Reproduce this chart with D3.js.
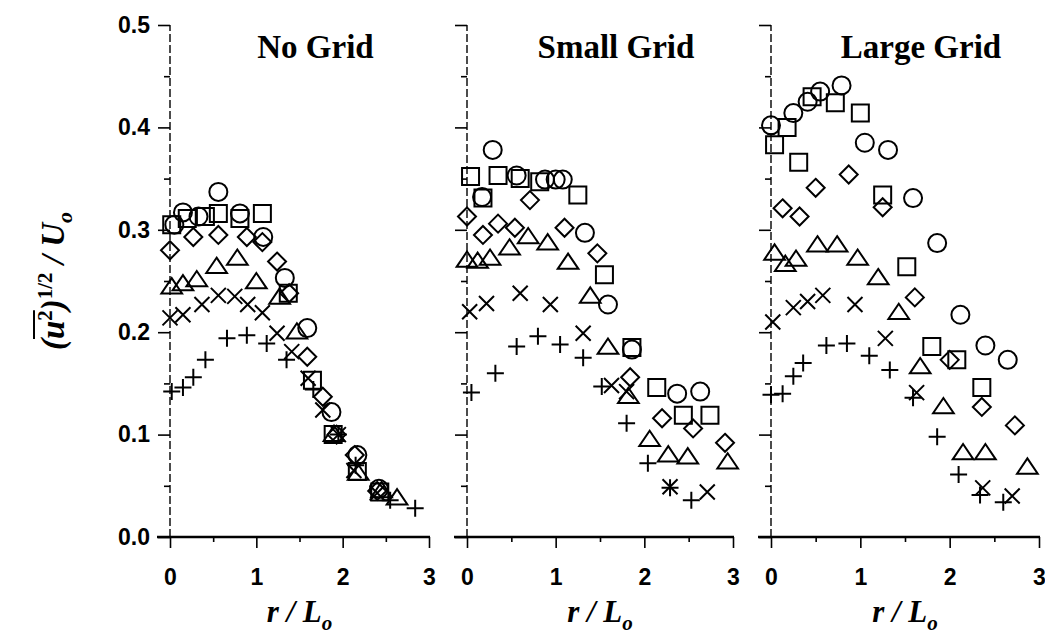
<!DOCTYPE html>
<html>
<head>
<meta charset="utf-8">
<script src="https://cdn.jsdelivr.net/npm/d3@7"></script>
<style>
  body { margin: 0; background: #fff; }
  .tick text { font-family: "Liberation Sans", Arial, sans-serif; font-weight: bold; font-size: 23px; fill: #000; }
  .tick line { stroke: #000; stroke-width: 1.6; }
</style>
</head>
<body>
<svg id="chart"></svg>
<script>
// panels and axis ticks
var panelTitles = ['No Grid', 'Small Grid', 'Large Grid'];
var xTicks = [0, 1, 2, 3];
var xMinorTicks = [0.5, 1.5, 2.5];
var yTicks = [0, 0.1, 0.2, 0.3, 0.4, 0.5];
var yMinorTicks = [0.05, 0.15, 0.25, 0.35, 0.45];

// No Grid: [r/Lo, u'/Uo]
var ngCircle = [[0.05,0.305],[0.15,0.317],[0.33,0.313],[0.56,0.337],[0.81,0.316],[1.08,0.293],[1.33,0.253],[1.59,0.204],[1.87,0.122],[2.17,0.080],[2.42,0.047]];
var ngSquare = [[0.02,0.305],[0.20,0.311],[0.41,0.313],[0.56,0.316],[0.81,0.311],[1.07,0.316],[1.37,0.238],[1.65,0.153],[1.89,0.100],[2.17,0.064],[2.43,0.044]];
var ngDiamond = [[0.0,0.280],[0.27,0.293],[0.56,0.295],[0.89,0.293],[1.07,0.288],[1.24,0.269],[1.38,0.238],[1.59,0.176],[1.77,0.137],[1.93,0.100],[2.14,0.080],[2.40,0.045]];
var ngTriangle = [[0.02,0.244],[0.15,0.247],[0.31,0.251],[0.54,0.264],[0.78,0.272],[1.0,0.249],[1.27,0.234],[1.47,0.200],[1.90,0.100],[2.18,0.062],[2.45,0.045],[2.63,0.038]];
var ngTimes = [[0.0,0.214],[0.15,0.217],[0.37,0.227],[0.56,0.236],[0.75,0.235],[0.90,0.227],[1.07,0.219],[1.24,0.199],[1.41,0.181],[1.60,0.155],[1.77,0.124],[1.95,0.100],[2.13,0.065],[2.40,0.043]];
var ngPlus = [[0.02,0.142],[0.15,0.146],[0.27,0.156],[0.41,0.173],[0.66,0.194],[0.89,0.197],[1.12,0.189],[1.35,0.173],[1.66,0.144],[1.95,0.100],[2.15,0.070],[2.55,0.036],[2.84,0.028]];

// Small Grid
var sgCircle = [[0.17,0.332],[0.29,0.378],[0.56,0.353],[0.88,0.349],[1.0,0.349],[1.08,0.349],[1.33,0.297],[1.59,0.227],[1.86,0.183],[2.37,0.140],[2.63,0.142]];
var sgSquare = [[0.04,0.352],[0.18,0.331],[0.35,0.353],[0.60,0.350],[0.82,0.347],[1.25,0.334],[1.55,0.256],[1.86,0.185],[2.14,0.146],[2.44,0.119],[2.74,0.119]];
var sgDiamond = [[0.0,0.313],[0.18,0.295],[0.35,0.306],[0.54,0.302],[0.71,0.329],[1.10,0.302],[1.47,0.277],[1.84,0.156],[2.20,0.116],[2.55,0.106],[2.91,0.092]];
var sgTriangle = [[0.0,0.270],[0.12,0.269],[0.26,0.272],[0.48,0.282],[0.69,0.293],[0.91,0.287],[1.14,0.268],[1.39,0.235],[1.59,0.185],[1.82,0.137],[2.06,0.095],[2.27,0.080],[2.49,0.078],[2.94,0.073]];
var sgTimes = [[0.03,0.220],[0.22,0.228],[0.60,0.238],[0.94,0.227],[1.31,0.199],[1.63,0.148],[1.80,0.142],[2.29,0.049],[2.71,0.044]];
var sgPlus = [[0.05,0.141],[0.32,0.160],[0.56,0.186],[0.80,0.196],[1.05,0.188],[1.31,0.175],[1.52,0.147],[1.80,0.111],[2.04,0.072],[2.29,0.048],[2.53,0.036]];

// Large Grid
var lgCircle = [[0.0,0.402],[0.25,0.414],[0.41,0.425],[0.55,0.435],[0.79,0.441],[1.05,0.385],[1.31,0.378],[1.59,0.331],[1.86,0.287],[2.12,0.217],[2.40,0.187],[2.65,0.173]];
var lgSquare = [[0.04,0.383],[0.18,0.400],[0.31,0.366],[0.46,0.430],[0.72,0.424],[1.0,0.414],[1.25,0.334],[1.52,0.264],[1.80,0.186],[2.08,0.173],[2.36,0.146]];
var lgDiamond = [[0.13,0.321],[0.32,0.313],[0.50,0.341],[0.87,0.354],[1.25,0.322],[1.61,0.234],[2.0,0.173],[2.36,0.127],[2.73,0.109]];
var lgTriangle = [[0.04,0.277],[0.16,0.266],[0.28,0.271],[0.52,0.285],[0.74,0.285],[0.97,0.272],[1.20,0.253],[1.43,0.219],[1.67,0.166],[1.93,0.127],[2.15,0.082],[2.40,0.082],[2.87,0.068]];
var lgTimes = [[0.02,0.210],[0.25,0.224],[0.41,0.230],[0.58,0.236],[0.94,0.227],[1.28,0.194],[1.63,0.141],[2.37,0.048],[2.70,0.040]];
var lgPlus = [[0.0,0.139],[0.13,0.140],[0.25,0.157],[0.36,0.170],[0.62,0.187],[0.85,0.189],[1.10,0.177],[1.33,0.163],[1.59,0.136],[1.86,0.098],[2.10,0.061],[2.34,0.041],[2.60,0.034]];

var width = 1045;
var height = 636;

// marker shapes (open symbols, drawn via d3.symbol)
var shapes = {
    circle: { draw: function(c, s) { c.moveTo(s, 0); c.arc(0, 0, s, 0, 2 * Math.PI); } },
    square: { draw: function(c, s) { c.rect(-s, -s, 2 * s, 2 * s); } },
    diamond: { draw: function(c, s) { c.moveTo(0, -s); c.lineTo(s, 0); c.lineTo(0, s); c.lineTo(-s, 0); c.closePath(); } },
    triangle: { draw: function(c, s) { c.moveTo(0, -s); c.lineTo(s * 1.15, s * 0.7); c.lineTo(-s * 1.15, s * 0.7); c.closePath(); } },
    times: { draw: function(c, s) { c.moveTo(-s, -s); c.lineTo(s, s); c.moveTo(s, -s); c.lineTo(-s, s); } },
    plus: { draw: function(c, s) { c.moveTo(-s, 0); c.lineTo(s, 0); c.moveTo(0, -s); c.lineTo(0, s); } }
};
var shapeSize = { circle: 9, square: 8.5, diamond: 9, triangle: 9, times: 7.5, plus: 8.5 };

var panels = [
    { x0: 170, x1: 429, series: { circle: ngCircle, square: ngSquare, diamond: ngDiamond, triangle: ngTriangle, times: ngTimes, plus: ngPlus } },
    { x0: 467, x1: 733, series: { circle: sgCircle, square: sgSquare, diamond: sgDiamond, triangle: sgTriangle, times: sgTimes, plus: sgPlus } },
    { x0: 771, x1: 1039, series: { circle: lgCircle, square: lgSquare, diamond: lgDiamond, triangle: lgTriangle, times: lgTimes, plus: lgPlus } }
];

var svg = d3.select('#chart')
    .attr('width', width)
    .attr('height', height);

var yScale = d3.scaleLinear().domain([0, 0.5]).range([537, 25]);

panels.forEach(function(p, i) {
    var xScale = d3.scaleLinear().domain([0, 3]).range([p.x0, p.x1]);
    var g = svg.append('g');

    // y axis: major + minor ticks
    var yAxis = d3.axisLeft(yScale).tickValues(yTicks).tickSize(12).tickPadding(8)
        .tickFormat(i === 0 ? d3.format('.1f') : '');
    g.append('g').attr('transform', `translate(${p.x0}, 0)`).call(yAxis)
        .call(a => a.select('.domain').remove());
    g.append('g').attr('transform', `translate(${p.x0}, 0)`)
        .call(d3.axisLeft(yScale).tickValues(yMinorTicks).tickSize(6).tickFormat(''))
        .call(a => a.select('.domain').remove());
    g.append('line')
        .attr('x1', p.x0).attr('x2', p.x0)
        .attr('y1', yScale(0)).attr('y2', yScale(0.5))
        .attr('stroke', '#000').attr('stroke-width', 1.4)
        .attr('stroke-dasharray', '8,3');

    // x axis: major + minor ticks
    g.append('g').attr('transform', `translate(0, ${yScale(0)})`)
        .call(d3.axisBottom(xScale).tickValues(xTicks).tickSize(11).tickPadding(21).tickFormat(d3.format('d')))
        .call(a => a.select('.domain').remove());
    g.append('g').attr('transform', `translate(0, ${yScale(0)})`)
        .call(d3.axisBottom(xScale).tickValues(xMinorTicks).tickSize(5).tickFormat(''))
        .call(a => a.select('.domain').remove());
    g.append('line')
        .attr('x1', p.x0 - 13).attr('x2', p.x1 + 1)
        .attr('y1', yScale(0)).attr('y2', yScale(0))
        .attr('stroke', '#000').attr('stroke-width', 2.5);

    // panel title
    g.append('text')
        .attr('x', (p.x0 + p.x1) / 2 + 16)
        .attr('y', 58)
        .attr('text-anchor', 'middle')
        .style('font-family', '"Liberation Serif", "Times New Roman", serif')
        .style('font-weight', 'bold')
        .style('font-size', '33px')
        .text(panelTitles[i]);

    // x axis title  r / Lo
    var xt = g.append('text')
        .attr('x', (p.x0 + p.x1) / 2)
        .attr('y', 622)
        .attr('text-anchor', 'middle')
        .style('font-family', '"Liberation Serif", "Times New Roman", serif')
        .style('font-style', 'italic')
        .style('font-weight', 'bold')
        .style('font-size', '31px');
    xt.append('tspan').text('r / L');
    xt.append('tspan').attr('dy', 8).style('font-size', '21px').text('o');

    // markers
    Object.keys(p.series).forEach(function(k) {
        g.append('g').selectAll('path')
            .data(p.series[k])
            .enter()
            .append('path')
            .attr('transform', d => `translate(${xScale(d[0])}, ${yScale(d[1])})`)
            .attr('d', d3.symbol().type(shapes[k]).size(shapeSize[k]))
            .attr('fill', 'none')
            .attr('stroke', '#000')
            .attr('stroke-width', 2);
    });
});

// y axis title  (u^2)^(1/2) / Uo  with overline on u^2
var yt = svg.append('g').attr('transform', 'translate(64, 281) rotate(-90)');
var ytext = yt.append('text')
    .attr('text-anchor', 'middle')
    .style('font-family', '"Liberation Serif", "Times New Roman", serif')
    .style('font-style', 'italic')
    .style('font-weight', 'bold')
    .style('font-size', '33px');
ytext.append('tspan').text('(u');
ytext.append('tspan').attr('dy', -12).style('font-size', '21px').style('font-style', 'normal').text('2');
ytext.append('tspan').attr('dy', 12).text(')');
ytext.append('tspan').attr('dy', -12).style('font-size', '21px').style('font-style', 'normal').text('1/2');
ytext.append('tspan').attr('dy', 12).text(' / U');
ytext.append('tspan').attr('dy', 8).style('font-size', '22px').text('o');

var node = ytext.node();
var eU = node.getExtentOfChar(1);
var e2 = node.getExtentOfChar(2);
yt.append('line')
    .attr('x1', eU.x).attr('x2', e2.x + e2.width)
    .attr('y1', Math.min(eU.y, e2.y) + 1).attr('y2', Math.min(eU.y, e2.y) + 1)
    .attr('stroke', '#000').attr('stroke-width', 2);
</script>
</body>
</html>
